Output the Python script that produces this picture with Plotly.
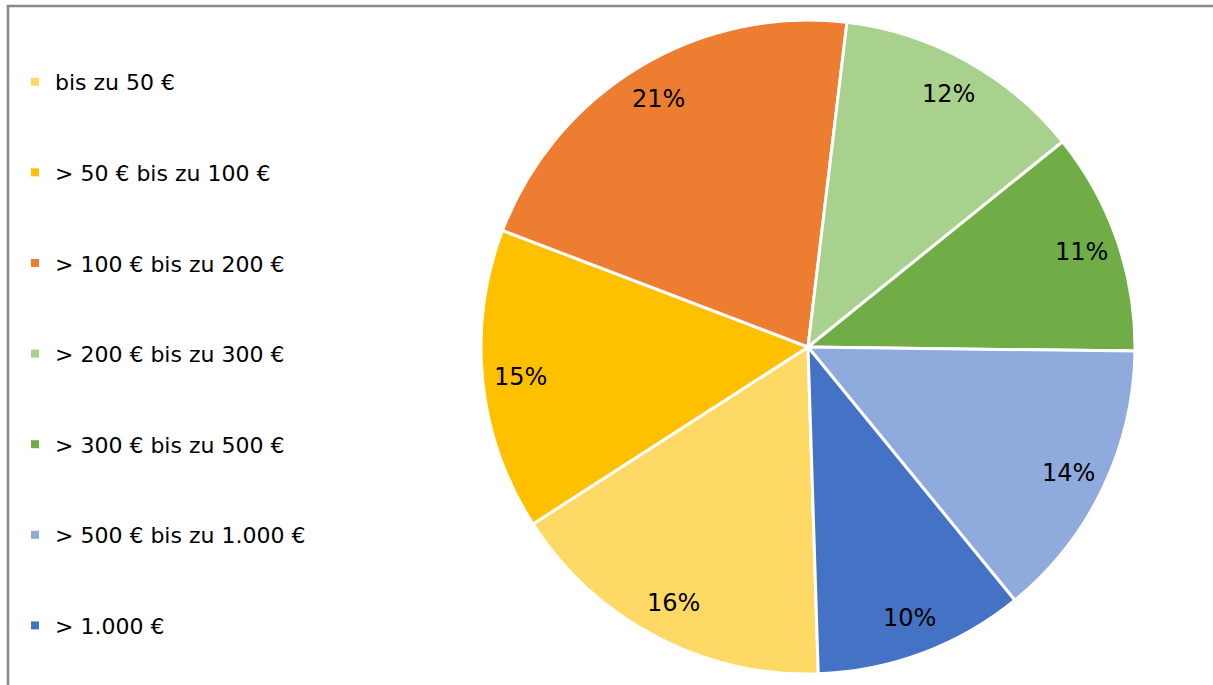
import math
import plotly.graph_objects as go

categories = ["bis zu 50 €", "> 50 € bis zu 100 €", "> 100 € bis zu 200 €",
              "> 200 € bis zu 300 €", "> 300 € bis zu 500 €",
              "> 500 € bis zu 1.000 €", "> 1.000 €"]
values = [16.4, 14.9, 21.1, 12.3, 11.0, 13.9, 10.4]
colors = ["#FFD966", "#FFC000", "#ED7D31", "#A9D18E", "#70AD47", "#8FAADC", "#4472C4"]

W, H = 1213, 685
FONT = "DejaVu Sans, Liberation Sans, Arial, sans-serif"

# pie geometry (pixels)
PX0, PX1, PY0, PY1 = 481, 1135, 20, 674
ROT = 178.2
cx_px, cy_px = (PX0 + PX1) / 2, (PY0 + PY1) / 2
R = (PX1 - PX0) / 2

fig = go.Figure()
fig.add_trace(go.Pie(
    labels=categories, values=values, sort=False, direction="clockwise",
    rotation=ROT,
    marker=dict(colors=colors, line=dict(color="white", width=3)),
    textinfo="none", showlegend=False, hoverinfo="label+percent",
    domain=dict(x=[PX0 / W, PX1 / W], y=[1 - PY1 / H, 1 - PY0 / H]),
))

# percentage labels near the outer end of each slice, computed from the data
total = sum(values)
annotations = []
cum = 0
for v in values:
    mid = ROT + (cum + v / 2) / total * 360
    cum += v
    t = math.radians(mid)
    xp = cx_px + 0.885 * R * math.sin(t)
    yp = cy_px - 0.885 * R * math.cos(t)
    annotations.append(dict(
        x=xp / W, y=1 - yp / H, xref="paper", yref="paper",
        text=f"{round(v / total * 100)}%", showarrow=False,
        xanchor="center", yanchor="middle",
        font=dict(family=FONT, size=24, color="black"),
    ))

for i, (c, col) in enumerate(zip(categories, colors)):
    fig.add_trace(go.Scatter(
        x=[None], y=[None], mode="markers", name=c, legendgroup=f"g{i}",
        marker=dict(symbol="square", size=8, color=col),
    ))

fig.update_layout(
    width=W, height=H,
    margin=dict(l=0, r=0, t=0, b=0),
    paper_bgcolor="white", plot_bgcolor="white",
    xaxis=dict(visible=False), yaxis=dict(visible=False),
    legend=dict(
        x=15 / W, y=1 - 61 / H, xanchor="left", yanchor="top",
        traceorder="grouped", tracegroupgap=59,
        font=dict(family=FONT, size=22, color="black"),
        bgcolor="rgba(0,0,0,0)", itemwidth=30,
    ),
    annotations=annotations,
    shapes=[dict(type="rect", xref="paper", yref="paper",
                 x0=8 / W, x1=1.2, y0=-0.2, y1=1 - 6 / H,
                 line=dict(color="#898989", width=2.5), layer="below")],
)

fig.write_html("out.html", config={"displayModeBar": False},
               post_script="document.body.style.margin='0';")
